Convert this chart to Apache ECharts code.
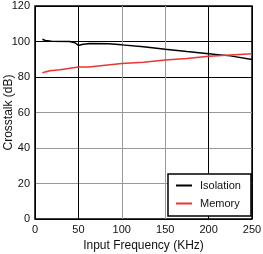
<!DOCTYPE html>
<html><head><meta charset="utf-8">
<script src="https://cdn.jsdelivr.net/npm/echarts@6/dist/echarts.min.js"></script>
<style>html,body{margin:0;padding:0;background:#fff}#c{width:263px;height:254px}</style>
</head><body><div id="c"></div>
<script>
const freqIso = [8.5, 12, 19, 40, 46, 50, 54, 63, 85, 100, 125, 150, 175, 200, 225, 250];
const isolation = [101.3, 100.6, 100.1, 100.0, 99.3, 97.8, 98.3, 98.9, 98.7, 98.1, 97.0, 95.6, 94.3, 93.1, 91.9, 89.8];
const freqMem = [8.5, 17, 29, 50, 62, 100, 125, 150, 175, 200, 225, 250];
const memory = [82.4, 83.5, 84.1, 85.6, 85.7, 87.6, 88.3, 89.6, 90.4, 91.7, 92.4, 93.1];
const xTicks = [0, 50, 100, 150, 200, 250];
const yTicks = [0, 20, 40, 60, 80, 100, 120];

const font = 'Liberation Sans, Arial, sans-serif';
const chart = echarts.init(document.getElementById('c'), null, {renderer: 'canvas'});
chart.setOption({
  animation: false,
  backgroundColor: '#fff',
  grid: {left: 35, right: 11, top: 6, bottom: 35, outerBoundsMode: 'none', containLabel: false,
         show: true, borderColor: '#000', borderWidth: 1.5, backgroundColor: 'transparent'},
  xAxis: {
    type: 'value', min: xTicks[0], max: xTicks[xTicks.length - 1], interval: 50,
    name: 'Input Frequency (KHz)', nameLocation: 'middle', nameGap: 21, nameMoveOverlap: false,
    nameTextStyle: {fontFamily: font, fontSize: 12, color: '#111'},
    axisLine: {show: false}, axisTick: {show: false},
    axisLabel: {fontFamily: font, fontSize: 11, color: '#111', margin: 5},
    splitLine: {show: true, lineStyle: {color: ['#000', '#000', '#999', '#999', '#000', '#000'], width: 1}}
  },
  yAxis: {
    type: 'value', min: yTicks[0], max: yTicks[yTicks.length - 1], interval: 20,
    name: 'Crosstalk (dB)', nameLocation: 'middle', nameGap: 20, nameMoveOverlap: false,
    nameTextStyle: {fontFamily: font, fontSize: 12, color: '#111'},
    axisLine: {show: false}, axisTick: {show: false},
    axisLabel: {fontFamily: font, fontSize: 11, color: '#111', margin: 5},
    splitLine: {show: true, lineStyle: {color: ['#000', '#999', '#999', '#999', '#000', '#000', '#000'], width: 1}}
  },
  legend: {
    orient: 'vertical', left: 168, top: 174,
    padding: [6, 10, 7, 8], itemGap: 7,
    backgroundColor: '#fff', borderColor: '#000', borderWidth: 1.5, borderRadius: 0,
    itemWidth: 16, itemHeight: 2, icon: 'rect',
    textStyle: {fontFamily: font, fontSize: 11, color: '#111', padding: [0, 0, 0, 3]},
    data: ['Isolation', 'Memory']
  },
  series: [
    {name: 'Isolation', type: 'line', showSymbol: false, symbol: 'none', color: '#000',
     lineStyle: {width: 1.5, color: '#000'}, data: freqIso.map((f, i) => [f, isolation[i]])},
    {name: 'Memory', type: 'line', showSymbol: false, symbol: 'none', color: '#ee3333',
     lineStyle: {width: 1.5, color: '#ee3333'}, data: freqMem.map((f, i) => [f, memory[i]])}
  ]
});
</script></body></html>
